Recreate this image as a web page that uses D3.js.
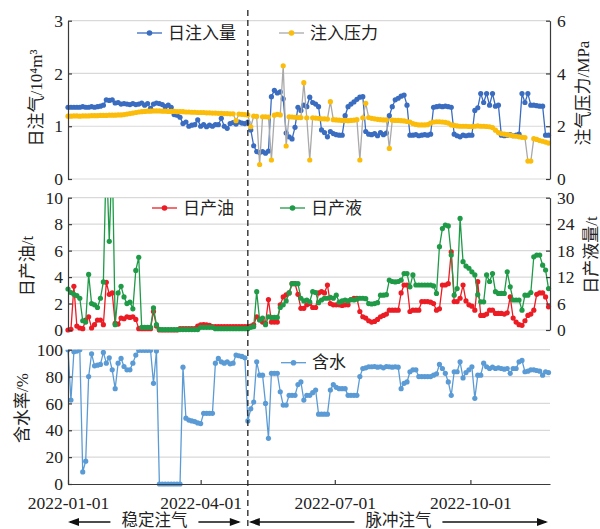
<!DOCTYPE html>
<html><head><meta charset="utf-8">
<script src="https://cdn.jsdelivr.net/npm/d3@7"></script>
<style>
body{margin:0;background:#fff;}
svg{display:block;}
</style></head><body>
<svg id="c" width="600" height="529"></svg>
<script>
// ---- categories / dates ----
const startDate = "2022-01-01";
const endDate = "2022-11-24";
const stepDays = 2;
const switchDate = "2022-05-03";
const xTickDates = ["2022-01-01","2022-04-01","2022-07-01","2022-10-01"];
const stageLabels = ["稳定注气","脉冲注气"];

// ---- series (one value every 2 days) ----
// 日注入量, 10^4 m3
const injVol = [1.36,1.36,1.36,1.36,1.36,1.37,1.36,1.36,1.37,1.36,1.37,
1.38,1.40,1.50,1.49,1.50,1.44,1.45,1.42,1.43,
1.42,1.41,1.43,1.41,1.42,1.44,1.40,1.43,1.34,1.42,
1.44,1.43,1.41,1.37,1.40,1.36,1.22,1.21,1.17,1.05,
1.08,1.00,1.02,1.03,1.12,1.00,1.03,0.99,1.02,1.00,
1.03,1.03,1.15,1.00,0.96,1.05,1.07,1.04,1.08,1.06,
1.05,1.08,0.93,0.63,0.52,0.50,0.52,0.49,0.53,1.56,
1.68,1.63,1.65,1.52,0.87,0.80,0.76,0.98,1.36,
1.30,1.40,1.37,1.55,1.45,1.42,1.37,0.93,0.88,0.80,0.90,
0.86,0.84,0.83,0.83,1.20,1.37,1.42,1.46,1.51,1.55,
1.56,0.90,0.85,0.84,0.86,0.82,0.88,0.84,0.87,1.20,
1.37,1.50,1.53,1.57,1.59,1.40,0.83,0.83,0.84,0.82,
0.83,0.84,0.83,0.85,1.36,1.37,1.38,1.37,1.38,1.37,
1.36,0.85,0.82,0.80,0.83,0.82,0.83,0.83,1.30,1.35,
1.62,1.45,1.62,1.40,1.62,1.38,1.40,0.83,0.82,0.83,
0.84,0.82,0.83,0.85,1.62,1.45,1.62,1.40,1.40,1.39,
1.38,1.38,0.83,0.83];
// 注入压力, MPa
const injPres = [2.38,2.38,2.39,2.39,2.38,2.39,2.39,2.39,2.40,2.40,
2.40,2.41,2.41,2.41,2.42,2.42,2.42,2.43,2.43,2.44,
2.46,2.48,2.50,2.52,2.54,2.55,2.56,2.57,2.57,2.58,
2.58,2.58,2.57,2.57,2.56,2.56,2.56,2.55,2.55,2.55,
2.54,2.54,2.53,2.53,2.52,2.52,2.52,2.51,2.51,2.50,
2.50,2.49,2.49,2.48,2.48,2.47,2.47,2.21,2.46,2.45,
2.44,2.43,1.98,2.38,2.37,0.55,2.36,2.36,2.35,0.72,
2.42,2.45,2.43,4.29,1.25,2.36,2.35,2.34,2.33,2.33,
3.65,2.32,0.72,2.32,2.31,2.30,2.28,2.28,2.27,2.93,
2.25,2.24,2.23,2.22,2.22,2.21,2.22,2.23,2.25,0.72,
2.32,2.87,2.33,2.30,2.28,2.26,2.25,2.24,2.24,1.16,
2.23,2.22,2.22,2.21,2.20,2.18,2.16,2.10,2.07,2.05,
2.05,2.05,2.06,2.12,2.16,2.17,2.17,2.16,2.15,2.12,
2.05,2.03,2.01,2.00,2.00,2.00,1.99,1.99,2.00,2.01,
2.00,2.00,1.99,1.98,1.95,1.85,1.76,1.72,1.70,1.68,
1.66,1.64,1.62,1.60,1.58,1.57,0.68,0.68,1.53,1.50,
1.46,1.43,1.40,1.36];
// 日产油, t
const oil = [0.0,0.05,3.3,0.3,0.15,0.1,0.75,1.0,0.15,0.4,
0.75,0.75,0.4,3.6,2.7,2.8,0.5,0.45,0.9,0.85,
1.0,0.95,1.0,0.8,0.1,0.1,0.1,0.1,0.1,1.4,
0.3,0.0,0.0,0.0,0.0,0.0,0.0,0.0,0.1,0.1,
0.1,0.1,0.1,0.1,0.3,0.38,0.4,0.38,0.35,0.25,
0.25,0.25,0.25,0.25,0.25,0.25,0.25,0.25,0.25,0.25,
0.25,0.25,0.3,0.4,1.0,0.8,0.6,0.5,2.3,0.6,
0.6,0.6,1.9,2.5,2.65,2.8,3.5,3.5,2.7,1.64,
1.64,1.9,2.0,1.7,1.7,2.8,2.9,2.8,3.4,2.0,
1.9,1.9,1.9,1.85,1.9,1.9,2.3,2.4,2.4,1.4,
1.0,0.9,0.7,0.6,0.65,0.8,1.0,1.1,1.2,1.5,
1.5,1.5,1.5,2.8,3.4,3.4,1.4,1.5,1.5,1.5,
2.15,2.15,2.15,2.1,2.0,1.5,1.6,3.4,3.4,3.5,
5.9,2.15,2.15,2.4,3.4,2.2,1.9,1.8,1.5,3.65,
1.1,1.1,1.2,1.5,1.5,1.25,1.25,1.25,1.2,1.3,
2.5,0.9,0.6,0.4,0.35,0.7,1.1,1.2,1.5,2.7,
2.8,2.8,2.5,1.75];
// 日产液, t
const liquid = [9.3,8.5,8.1,7.8,7.2,2.1,1.8,12.6,6.0,5.7,
5.1,7.2,10.9,40,20.1,40,1.2,8.4,9.9,7.5,
6.0,6.3,4.8,13.5,16.5,0.6,0.6,0.6,0.6,5.0,
1.2,0.15,0.1,0.1,0.1,0.1,0.1,0.1,0.1,0.1,
0.1,0.1,0.1,0.1,0.1,0.6,0.6,0.6,0.6,0.6,
0.3,0.3,0.3,0.3,0.3,0.3,0.3,0.3,0.3,0.3,
0.3,0.3,0.6,0.75,8.7,2.25,2.7,1.2,3.0,2.85,
2.85,2.85,5.1,5.7,6.6,8.4,10.5,10.5,10.5,7.2,
6.6,6.8,6.4,8.7,8.5,6.2,6.8,7.2,7.2,7.4,
7.2,7.9,6.3,6.6,6.8,6.6,6.9,6.8,7.0,7.2,
7.2,7.1,6.0,5.9,6.0,6.2,7.9,7.9,8.0,11.3,
11.0,10.9,11.0,11.3,12.8,12.8,9.8,12.5,10.2,10.2,
10.2,10.2,10.2,10.2,10.0,8.3,18.9,23.0,23.8,23.6,
17.0,7.9,9.4,25.3,15.5,14.5,14.0,13.2,12.5,8.0,
6.4,6.4,12.5,11.0,12.8,8.7,8.3,8.3,8.3,13.2,
9.8,6.8,6.8,6.8,4.5,7.9,7.9,8.5,16.6,17.0,
17.0,14.7,13.6,9.4];
// 含水, %
const water = [100,62.5,98.5,99,100,9,17,80,97,88,
88.5,89,98,90,94,85,71,90,93.5,87.5,
85,85,90,96,99.5,99.5,99.5,99.5,99.5,75,
99,0,0,0,0,0,0,0,0,87,
49,47.6,47,46.5,45.5,45,52.6,52.6,52.6,52.6,
90,93.5,91,90,91,89.5,90,96,95.5,95,
94,47,56,61,91,81,81,60,34,82.4,
82.4,82.4,68.7,58.8,58.8,66,66,66,74,76,
62.5,66,66,68,70,52,52,52,52,70,
74,72,71,71,71,66,66,66,66,80,
86,86.5,87.3,87.3,87.5,87,87.3,86.5,87.5,87.3,
87,87.3,87,71,75,76,83.6,85,85,80,
80,80,80,80,81,82,89,86,82.4,76,
66,83.6,83.6,91,79,83,85,87.3,63.8,81,
81,90,87.3,86,87,86,86.5,86,85.5,86,
82.4,86,86,91,92,83.6,84,85,85,84.5,
84,81,83.6,83];

// ---- tick values ----
const volTicks = [0,1,2,3];
const presTicks = [0,2,4,6];
const oilTicks = [0,2,4,6,8,10];
const liqTicks = [0,6,12,18,24,30];
const waterTicks = [0,20,40,60,80,100];

// ---- setup ----
const SERIF = '"Liberation Serif","Times New Roman",serif';
const MIXED = '"Liberation Serif","Noto Sans CJK SC",serif';
const parse = d3.timeParse("%Y-%m-%d");
const t0 = parse(startDate);
const dates = injVol.map((_, i) => d3.timeDay.offset(t0, i * stepDays));
const svg = d3.select("#c");
const L = 68, R = 550;
const x = d3.scaleTime().domain([parse(startDate), parse(endDate)]).range([L, R]);

const P1 = {top: 20.7, bot: 179}, P2 = {top: 197.7, bot: 330}, P3 = {top: 349.7, bot: 484};
const yVol = d3.scaleLinear().domain([0,3]).range([P1.bot, P1.top]);
const yPres = d3.scaleLinear().domain([0,6]).range([P1.bot, P1.top]);
const yOil = d3.scaleLinear().domain([0,10]).range([P2.bot, P2.top]);
const yLiq = d3.scaleLinear().domain([0,30]).range([P2.bot, P2.top]);
const yWat = d3.scaleLinear().domain([0,100]).range([P3.bot, P3.top]);

const FS = 17.5;
const AX = "#3a3a3a";
const defs = svg.append("defs");
const fmt = d3.format("~g");

function grid(ys, ticks, skipZero) {
  svg.append("g").selectAll("line").data(ticks.filter(t => !(skipZero && t === 0))).join("line")
    .attr("x1", L).attr("x2", R).attr("y1", d => ys(d)).attr("y2", d => ys(d))
    .attr("stroke", "#d9d9d9").attr("stroke-width", 1.2);
}
function styleAxis(g) {
  g.attr("font-family", null).attr("font-size", null);
  g.selectAll("path,line").attr("stroke", AX).attr("stroke-width", 1.2);
  g.selectAll("text").style("font-size", FS + "px").style("font-family", SERIF).attr("fill", "#222");
}
function leftAxis(ys, ticks) {
  const g = svg.append("g").attr("transform", `translate(${L},0)`)
    .call(d3.axisLeft(ys).tickValues(ticks).tickFormat(fmt).tickSizeInner(-4).tickSizeOuter(0).tickPadding(5));
  styleAxis(g);
}
function rightAxis(ys, ticks) {
  const g = svg.append("g").attr("transform", `translate(${R},0)`)
    .call(d3.axisRight(ys).tickValues(ticks).tickFormat(fmt).tickSizeInner(-4).tickSizeOuter(0).tickPadding(7));
  styleAxis(g);
}
function clip(id, P) {
  defs.append("clipPath").attr("id", id).append("rect")
    .attr("x", L - 4).attr("y", P.top).attr("width", R - L + 8).attr("height", P.bot - P.top + 4);
  return svg.append("g").attr("clip-path", `url(#${id})`);
}
function series(g, vals, ys, lineColor, dotColor, r) {
  const data = vals.map((v, i) => [dates[i], v]);
  g.append("path").datum(data)
    .attr("d", d3.line().x(d => x(d[0])).y(d => ys(d[1])))
    .attr("fill", "none").attr("stroke", lineColor).attr("stroke-width", 1.3);
  g.append("g").selectAll("circle").data(data).join("circle")
    .attr("cx", d => x(d[0])).attr("cy", d => ys(d[1])).attr("r", r).attr("fill", dotColor);
}
function legendItem(x1, x2, y, lineColor, dotColor, label) {
  svg.append("line").attr("x1", x1).attr("x2", x2).attr("y1", y).attr("y2", y)
    .attr("stroke", lineColor).attr("stroke-width", 1.3);
  svg.append("circle").attr("cx", (x1 + x2) / 2).attr("cy", y).attr("r", 2.8).attr("fill", dotColor);
  svg.append("text").attr("x", x2 + 6).attr("y", y).attr("dominant-baseline", "central")
    .style("font-size", "17px").style("font-family", MIXED).attr("fill", "#222").text(label);
}
function vtitle(cx, cy, txt) {
  svg.append("text").attr("transform", `translate(${cx},${cy}) rotate(-90)`)
    .attr("text-anchor", "middle").attr("dominant-baseline", "central")
    .style("font-size", "17px").style("font-family", MIXED).attr("fill", "#222").text(txt);
}

const C = {blue: "#3a6cc0", gray: "#a9a9a9", yellow: "#fbbc0a", red: "#ec1c24", green: "#1f9a47", water: "#5b9bd5"};

// Panel 1
grid(yVol, volTicks, false);
const g1 = clip("c1", P1);
series(g1, injVol, yVol, C.blue, C.blue, 2.6);
series(g1, injPres, yPres, C.gray, C.yellow, 2.6);
leftAxis(yVol, volTicks);
rightAxis(yPres, presTicks);

// Panel 2
grid(yOil, oilTicks, false);
const g2 = clip("c2", P2);
series(g2, oil, yOil, C.red, C.red, 2.6);
series(g2, liquid, yLiq, C.green, C.green, 2.6);
leftAxis(yOil, oilTicks);
rightAxis(yLiq, liqTicks);

// Panel 3
grid(yWat, waterTicks, true);
const g3 = clip("c3", P3);
series(g3, water, yWat, C.water, C.water, 2.6);
leftAxis(yWat, waterTicks);
const xa = svg.append("g").attr("transform", `translate(0,${P3.bot})`)
  .call(d3.axisBottom(x).tickValues(xTickDates.map(parse)).tickSizeInner(-4).tickSizeOuter(0)
    .tickPadding(13).tickFormat(d3.timeFormat("%Y-%m-%d")));
styleAxis(xa);

// Legends
legendItem(137, 162, 33, C.blue, C.blue, "日注入量");
legendItem(279, 304, 33, C.gray, C.yellow, "注入压力");
legendItem(152, 177, 208, C.red, C.red, "日产油");
legendItem(280, 305, 208, C.green, C.green, "日产液");
legendItem(281, 306, 362.7, C.water, C.water, "含水");

// Axis titles
vtitle(36, 98, "日注气/10⁴m³");
vtitle(583, 93, "注气压力/MPa");
vtitle(27, 266, "日产油/t");
vtitle(591, 255, "日产液量/t");
vtitle(22, 408, "含水率/%");

// Stage divider
const xs = x(parse(switchDate));
svg.append("line").attr("x1", xs).attr("x2", xs).attr("y1", 10).attr("y2", 529)
  .attr("stroke", "#222").attr("stroke-width", 1.3).attr("stroke-dasharray", "6,4");

// Stage arrows
const ay = 522;
function arrowHead(tipX, dir) {
  svg.append("path")
    .attr("d", `M${tipX},${ay} L${tipX - dir * 11},${ay - 4} L${tipX - dir * 11},${ay + 4} Z`)
    .attr("fill", "#111");
}
function stage(x1, x2, label) {
  const mid = (x1 + x2) / 2, half = 33 + 11;
  svg.append("line").attr("x1", x1 + 2).attr("x2", mid - half).attr("y1", ay).attr("y2", ay).attr("stroke", "#111").attr("stroke-width", 1.3);
  svg.append("line").attr("x1", mid + half).attr("x2", x2 - 2).attr("y1", ay).attr("y2", ay).attr("stroke", "#111").attr("stroke-width", 1.3);
  arrowHead(x1, -1); arrowHead(x2, 1);
  svg.append("text").attr("x", mid).attr("y", ay - 2).attr("text-anchor", "middle").attr("dominant-baseline", "central")
    .style("font-size", "16.5px").style("font-family", MIXED).attr("fill", "#222").text(label);
}
stage(x(parse(startDate)), xs - 7, stageLabels[0]);
stage(xs + 1, x(parse(endDate)) - 2, stageLabels[1]);
</script>
</body></html>
